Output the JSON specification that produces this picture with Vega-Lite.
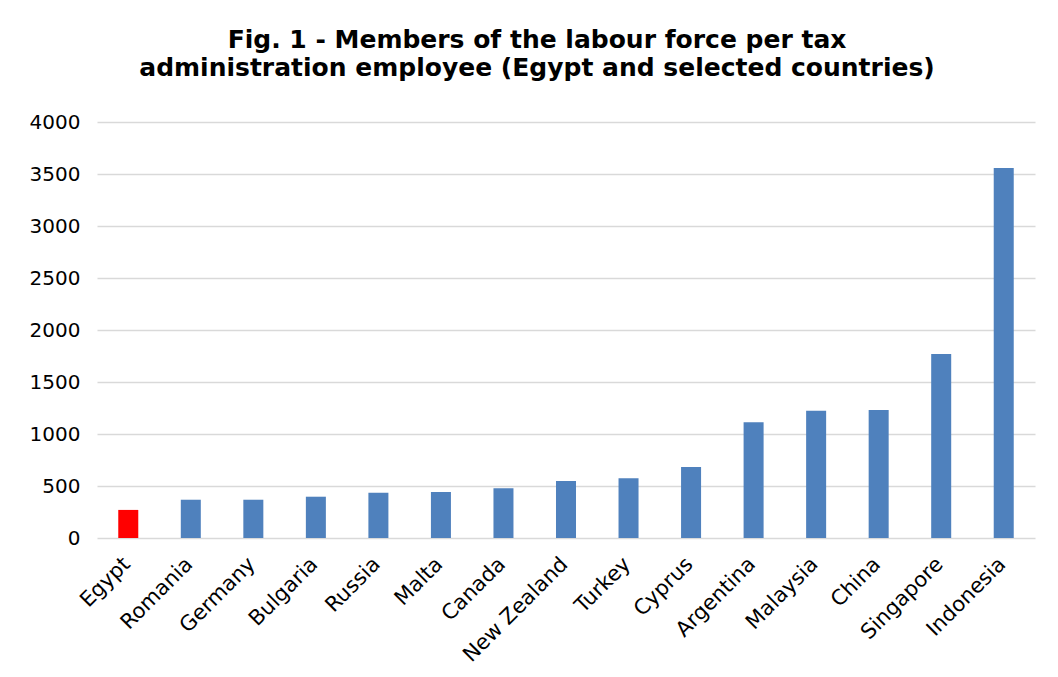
{
  "$schema": "https://vega.github.io/schema/vega-lite/v6.json",
  "width": 938,
  "height": 416,
  "autosize": {"type": "none"},
  "padding": {"left": 97, "top": 122, "right": 23, "bottom": 139},
  "background": "white",
  "title": {
    "text": ["Fig. 1 - Members of the labour force per tax", "administration employee (Egypt and selected countries)"],
    "font": "DejaVu Sans",
    "fontSize": 25,
    "fontWeight": "bold",
    "color": "black",
    "anchor": "middle",
    "dx": -29,
    "offset": 31,
    "lineHeight": 28
  },
  "data": {
    "values": [
      {"country": "Egypt", "value": 270, "highlight": "yes"},
      {"country": "Romania", "value": 368, "highlight": "no"},
      {"country": "Germany", "value": 368, "highlight": "no"},
      {"country": "Bulgaria", "value": 397, "highlight": "no"},
      {"country": "Russia", "value": 436, "highlight": "no"},
      {"country": "Malta", "value": 442, "highlight": "no"},
      {"country": "Canada", "value": 478, "highlight": "no"},
      {"country": "New Zealand", "value": 548, "highlight": "no"},
      {"country": "Turkey", "value": 574, "highlight": "no"},
      {"country": "Cyprus", "value": 683, "highlight": "no"},
      {"country": "Argentina", "value": 1112, "highlight": "no"},
      {"country": "Malaysia", "value": 1224, "highlight": "no"},
      {"country": "China", "value": 1231, "highlight": "no"},
      {"country": "Singapore", "value": 1770, "highlight": "no"},
      {"country": "Indonesia", "value": 3558, "highlight": "no"}
    ]
  },
  "mark": {"type": "bar"},
  "encoding": {
    "x": {
      "field": "country",
      "type": "nominal",
      "sort": null,
      "scale": {"paddingInner": 0.68, "paddingOuter": 0.34},
      "axis": {
        "title": null,
        "labelAngle": -45,
        "labelFont": "DejaVu Sans",
        "labelFontSize": 21,
        "labelColor": "black",
        "labelPadding": 15,
        "labelOffset": -9,
        "ticks": false,
        "domain": false,
        "grid": false
      }
    },
    "y": {
      "field": "value",
      "type": "quantitative",
      "scale": {"domain": [0, 4000], "nice": false},
      "axis": {
        "title": null,
        "format": "d",
        "values": [0, 500, 1000, 1500, 2000, 2500, 3000, 3500, 4000],
        "labelFont": "DejaVu Sans",
        "labelFontSize": 20,
        "labelColor": "black",
        "labelPadding": 17,
        "ticks": false,
        "domain": false,
        "grid": true,
        "gridColor": "#d9d9d9",
        "gridWidth": 1.5
      }
    },
    "color": {
      "field": "highlight",
      "type": "nominal",
      "scale": {"domain": ["yes", "no"], "range": ["#ff0000", "#4f81bd"]},
      "legend": null
    }
  },
  "config": {"view": {"stroke": null}}
}
